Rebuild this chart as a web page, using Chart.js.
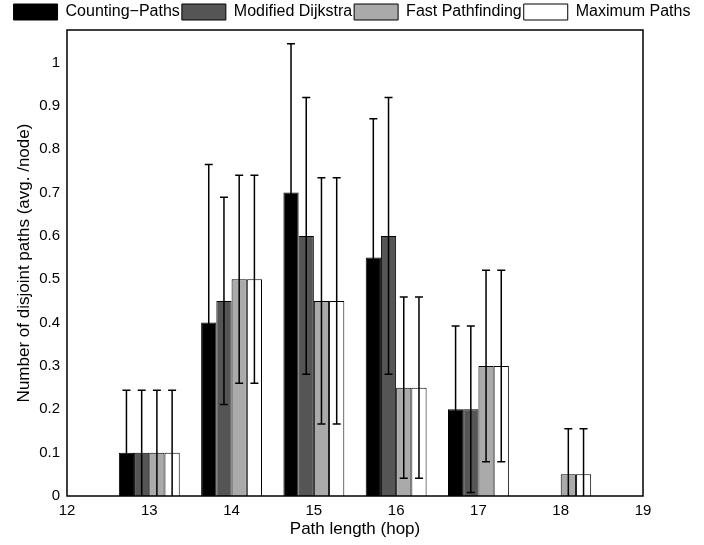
<!DOCTYPE html>
<html>
<head>
<meta charset="utf-8">
<script src="https://cdn.jsdelivr.net/npm/chart.js@4/dist/chart.umd.min.js"></script>
<style>
html,body{margin:0;padding:0;background:#fff;}
#wrap{width:704px;height:545px;}
</style>
</head>
<body>
<div id="wrap"><canvas id="c" width="704" height="545"></canvas></div>
<script>
const hops = [13, 14, 15, 16, 17, 18];
const seriesNames = ['Counting\u2212Paths', 'Modified Dijkstra', 'Fast Pathfinding', 'Maximum Paths'];
const countingPaths = [0.10, 0.40, 0.70, 0.55, 0.20, 0.00];
const modifiedDijkstra = [0.10, 0.45, 0.60, 0.60, 0.20, 0.00];
const fastPathfinding = [0.10, 0.50, 0.45, 0.25, 0.30, 0.05];
const maximumPaths = [0.10, 0.50, 0.45, 0.25, 0.30, 0.05];
const countingErr = [0.144, 0.365, 0.343, 0.320, 0.192, 0];
const dijkstraErr = [0.144, 0.239, 0.319, 0.319, 0.192, 0];
const fastErr = [0.144, 0.240, 0.284, 0.209, 0.221, 0.105];
const maxErr = [0.144, 0.240, 0.284, 0.209, 0.221, 0.105];
const yTicks = [0, 0.1, 0.2, 0.3, 0.4, 0.5, 0.6, 0.7, 0.8, 0.9, 1];
const xTicks = [12, 13, 14, 15, 16, 17, 18, 19];

const values = [countingPaths, modifiedDijkstra, fastPathfinding, maximumPaths];
const errors = [countingErr, dijkstraErr, fastErr, maxErr];
const fills = ['#000000', '#555555', '#aaaaaa', '#ffffff'];

const FONT = "'Liberation Sans', Arial, Helvetica, sans-serif";

const errorBarPlugin = {
  id: 'errorBars',
  afterDatasetsDraw(chart) {
    const ctx = chart.ctx;
    const ys = chart.scales.y;
    const area = chart.chartArea;
    ctx.save();
    ctx.beginPath();
    ctx.rect(area.left, area.top, area.right - area.left, area.bottom - area.top);
    ctx.clip();
    ctx.strokeStyle = '#000';
    ctx.lineWidth = 1.5;
    chart.data.datasets.forEach((ds, i) => {
      const meta = chart.getDatasetMeta(i);
      meta.data.forEach((el, j) => {
        const v = values[i][j], e = errors[i][j];
        if (!e) return;
        const x = el.x;
        const yt = ys.getPixelForValue(v + e);
        const yb = ys.getPixelForValue(v - e);
        const cap = 4;
        ctx.beginPath();
        ctx.moveTo(x, yt); ctx.lineTo(x, yb);
        ctx.moveTo(x - cap, yt); ctx.lineTo(x + cap, yt);
        ctx.moveTo(x - cap, yb); ctx.lineTo(x + cap, yb);
        ctx.stroke();
      });
    });
    ctx.restore();
  },
  afterDraw(chart) {
    const ctx = chart.ctx;
    const a = chart.chartArea;
    ctx.save();
    ctx.strokeStyle = '#000';
    ctx.lineWidth = 1.5;
    ctx.strokeRect(a.left, a.top, a.right - a.left, a.bottom - a.top);
    ctx.restore();
  }
};

const datasets = seriesNames.map((name, i) => ({
  label: name,
  data: hops.map((h, j) => ({x: h, y: values[i][j]})),
  backgroundColor: fills[i],
  borderColor: '#000',
  borderWidth: 1,
  categoryPercentage: 0.74,
  barPercentage: 1.0
}));

new Chart(document.getElementById('c'), {
  type: 'bar',
  data: {datasets},
  plugins: [errorBarPlugin],
  options: {
    responsive: false,
    animation: false,
    layout: {padding: {top: 2, left: 0, right: 0, bottom: 0}},
    plugins: {
      legend: {
        position: 'top',
        labels: {
          boxWidth: 44,
          boxHeight: 16,
          padding: 2,
          color: '#000',
          font: {family: FONT, size: 16}
        }
      },
      tooltip: {enabled: false}
    },
    scales: {
      x: {
        type: 'linear',
        min: 12, max: 19,
        offset: false,
        afterFit(s) { s.height = 49; },
        afterBuildTicks(s) { s.ticks = xTicks.map(v => ({value: v})); },
        grid: {display: false, drawTicks: false},
        border: {display: false},
        ticks: {color: '#000', padding: 6, font: {family: FONT, size: 15}, maxRotation: 0,
                callback: v => String(v)},
        title: {display: true, text: 'Path length (hop)', color: '#000', font: {family: FONT, size: 17}, padding: {top: 0, bottom: 5}}
      },
      y: {
        type: 'linear',
        min: 0, max: 1.075,
        afterFit(s) { s.width = 67; },
        afterBuildTicks(s) { s.ticks = yTicks.map(v => ({value: v})); },
        grid: {display: false, drawTicks: false},
        border: {display: false},
        ticks: {color: '#000', padding: 7, font: {family: FONT, size: 15},
                callback: v => String(Math.round(v * 10) / 10)},
        title: {display: true, text: 'Number of disjoint paths (avg. /node)', color: '#000', font: {family: FONT, size: 17}, padding: {top: 14, bottom: 0}}
      },
      y2: {
        type: 'linear',
        position: 'right',
        display: true,
        min: 0, max: 1,
        afterFit(s) { s.width = 61; },
        grid: {display: false, drawTicks: false},
        border: {display: false},
        ticks: {display: false}
      }
    }
  }
});
</script>
</body>
</html>
